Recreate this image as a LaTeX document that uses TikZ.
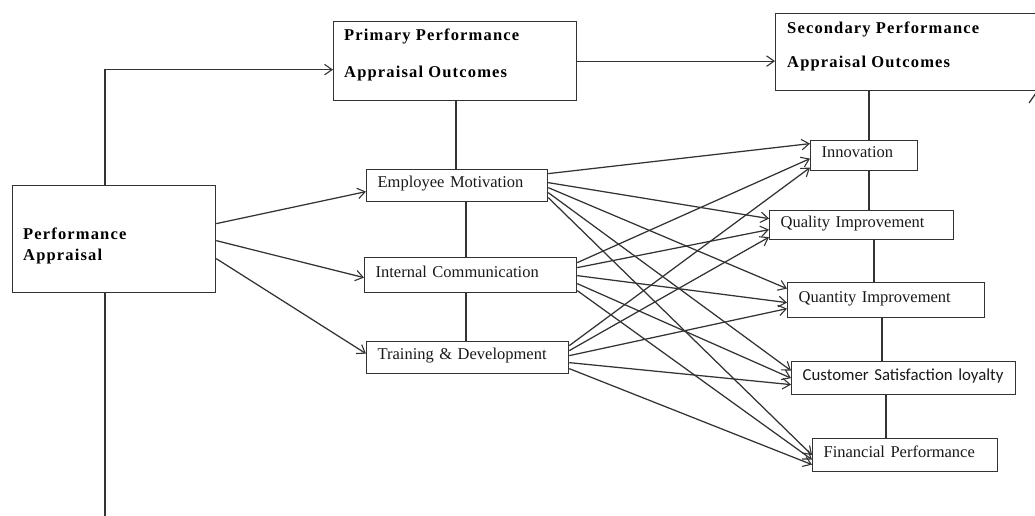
\documentclass[tikz,border=0pt]{standalone}
\usepackage{fontspec}
\setmainfont{Liberation Serif}
\newfontfamily\hdfont{Liberation Serif}[LetterSpace=7]
\newfontfamily\calfont{Carlito}
\usetikzlibrary{arrows.meta,calc}
\begin{document}
\begin{tikzpicture}[x=1pt,y=-1pt,
  ln/.style={draw=black!80, line width=1.25pt},
  arr/.style={ln, -{Straight Barb[length=7.5pt,width=10.5pt,line width=1.1pt]}},
  pbox/.style={ln, rectangle, anchor=north west, inner sep=0pt},
  tbox/.style={ln, rectangle, anchor=north west, inner xsep=11pt, inner ysep=0pt,
    align=left, text height=10pt, text depth=6pt, text=black!90,
    font=\fontsize{16.5}{19}\selectfont},
  htext/.style={anchor=base west, inner sep=0pt, text=black,
    font=\hdfont\bfseries\fontsize{16.5}{19}\selectfont}
]
\useasboundingbox (0,0) rectangle (1035,515);
\clip (0,0) rectangle (1035,515);

% headline boxes
\node[pbox, minimum width=203, minimum height=107] (pa) at (12,185) {};
\node[htext] (pat1) at (23,239) {Performance};
\node[htext] (pat2) at (23,260) {Appraisal};
\node[pbox, minimum width=243, minimum height=79] (prim) at (333,21) {};
\node[htext] (primt1) at (344,40.5) {Primary Performance};
\node[htext] (primt2) at (344,77) {Appraisal Outcomes};
\node[pbox, minimum width=280, minimum height=77] (sec) at (775,13) {};
\node[htext] (sect1) at (787,33) {Secondary Performance};
\node[htext] (sect2) at (787,67) {Appraisal Outcomes};

% middle boxes
\node[tbox, text width=159, minimum height=32] (em) at (366,169) {\mbox{Employee Motivation}};
\node[tbox, text width=190, minimum height=35] (ic) at (364,257) {\mbox{Internal Communication}};
\node[tbox, text width=180, minimum height=32] (td) at (366,341) {\mbox{Training \& Development}};

% right boxes
\node[tbox, text width=85, minimum height=30] (inn) at (810,140) {\mbox{Innovation}};
\node[tbox, text width=162, minimum height=29] (qual) at (769,210) {\mbox{Quality Improvement}};
\node[tbox, text width=175, minimum height=35] (quant) at (787,282) {\mbox{Quantity Improvement}};
\node[tbox, text width=202, minimum height=33, font=\calfont\fontsize{16.8}{19}\selectfont] (cust) at (791,361) {\mbox{Customer Satisfaction loyalty}};
\node[tbox, text width=163, minimum height=33] (fin) at (812,438) {\mbox{Financial Performance}};

% frame connectors
\draw[arr] ($(pa.north west)+(93,0)$) |- ($(prim.west)+(0,8.5)$);
\coordinate (paend) at (105,520);
\draw[ln] ($(pa.south west)+(93,0)$) -- (paend);
\draw[arr] (prim.east) -- (prim.east -| sec.west);
\draw[ln] ($(prim.south west)+(123,0)$) -- ($(em.north west)+(90,0)$);
\draw[ln] ($(em.south west)+(100,0)$) -- ($(ic.north west)+(102,0)$);
\draw[ln] ($(ic.south west)+(102,0)$) -- ($(td.north west)+(100,0)$);
\draw[ln] ($(sec.south west)+(94,0)$) -- ($(inn.north west)+(59,0)$);
\draw[ln] ($(inn.south west)+(59,0)$) -- ($(qual.north west)+(100,0)$);
\draw[ln] ($(qual.south west)+(105,0)$) -- ($(quant.north west)+(87,0)$);
\draw[ln] ($(quant.south west)+(95,0)$) -- ($(cust.north west)+(91,0)$);
\draw[ln] ($(cust.south west)+(95,0)$) -- ($(fin.north west)+(74,0)$);
\coordinate (fragA) at (1029,103);
\coordinate (fragB) at (1036,93);
\draw[ln] (fragA) -- (fragB);

% appraisal to primary outcomes
\draw[arr] ($(pa.east)+(0,-15.5)$) -- ($(em.west)+(0,6)$);
\draw[arr] ($(pa.east)+(0,1.5)$) -- ($(ic.west)+(0,2.5)$);
\draw[arr] ($(pa.east)+(0,19.5)$) -- ($(td.west)+(0,-4)$);

% primary to secondary outcomes
\draw[arr] ($(em.east)+(0,-12)$) -- ($(inn.west)+(0,-12)$);
\draw[arr] ($(em.east)+(0,-3)$) -- ($(qual.west)+(0,-6.5)$);
\draw[arr] ($(em.east)+(0,2)$) -- ($(quant.west)+(0,-11.5)$);
\draw[arr] ($(em.east)+(0,7)$) -- ($(cust.west)+(0,-7.5)$);
\draw[arr] ($(em.east)+(0,12)$) -- ($(fin.west)+(0,0)$);
\draw[arr] ($(ic.east)+(0,-12.5)$) -- ($(inn.west)+(0,3)$);
\draw[arr] ($(ic.east)+(0,-7.5)$) -- ($(qual.west)+(0,4.5)$);
\draw[arr] ($(ic.east)+(0,0.5)$) -- ($(quant.west)+(0,2.5)$);
\draw[arr] ($(ic.east)+(0,8.5)$) -- ($(cust.west)+(0,0)$);
\draw[arr] ($(ic.east)+(0,15.5)$) -- ($(fin.west)+(0,4.5)$);
\draw[arr] ($(td.east)+(0,-12)$) -- ($(inn.west)+(0,12)$);
\draw[arr] ($(td.east)+(0,-7)$) -- ($(qual.west)+(0,12)$);
\draw[arr] ($(td.east)+(0,-2)$) -- ($(quant.west)+(0,8.5)$);
\draw[arr] ($(td.east)+(0,5)$) -- ($(cust.west)+(0,6.5)$);
\draw[arr] ($(td.east)+(0,11)$) -- ($(fin.west)+(0,9.5)$);
\end{tikzpicture}
\end{document}
